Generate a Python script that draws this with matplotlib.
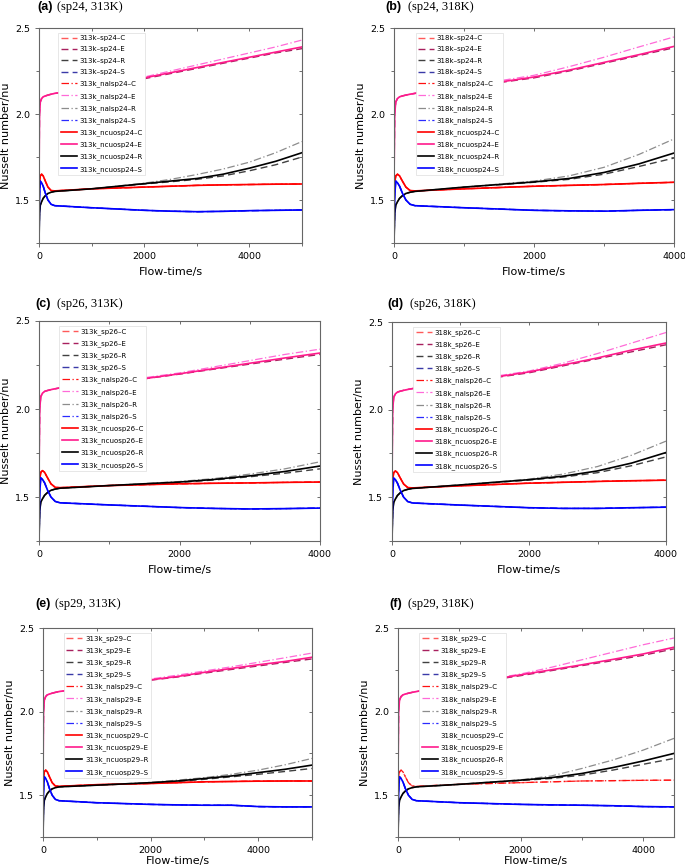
import matplotlib.pyplot as plt
from matplotlib.ticker import MultipleLocator

# ---- data (Nusselt number vs flow time) ----
# start-up part, same for every panel
early_t = [0, 10, 25, 50, 80, 120, 170, 230, 300]
early_E = [1.60, 2.00, 2.07, 2.09, 2.10, 2.105, 2.11, 2.115, 2.12]
early_C = [1.55, 1.60, 1.64, 1.65, 1.64, 1.61, 1.575, 1.555, 1.553]
early_S = [1.25, 1.52, 1.61, 1.60, 1.58, 1.54, 1.50, 1.475, 1.467]
early_R = [1.25, 1.42, 1.47, 1.49, 1.51, 1.525, 1.538, 1.545, 1.55]

# (a) sp24, 313K
a_t = [1000, 2000, 2500, 3000, 3500, 4000, 4500, 5000]
a_E_ncuo = [2.15, 2.21, 2.24, 2.27, 2.30, 2.33, 2.36, 2.39]
a_E_sp = [2.15, 2.205, 2.235, 2.265, 2.295, 2.325, 2.355, 2.38]
a_E_nal = [2.155, 2.215, 2.25, 2.285, 2.32, 2.355, 2.39, 2.43]
a_R_ncuo = [1.565, 1.595, 1.61, 1.625, 1.65, 1.685, 1.725, 1.775]
a_R_sp = [1.565, 1.593, 1.606, 1.62, 1.64, 1.67, 1.705, 1.75]
a_R_nal = [1.565, 1.598, 1.62, 1.648, 1.68, 1.72, 1.775, 1.84]
a_C = [1.565, 1.575, 1.58, 1.585, 1.588, 1.59, 1.592, 1.593]
a_S = [1.455, 1.44, 1.435, 1.432, 1.434, 1.438, 1.44, 1.442]

# (b) sp24, 318K
b_t = [1000, 2000, 2500, 3000, 3500, 4000]
b_E_ncuo = [2.155, 2.215, 2.255, 2.30, 2.345, 2.393]
b_E_sp = [2.155, 2.21, 2.25, 2.295, 2.34, 2.385]
b_E_nal = [2.16, 2.225, 2.275, 2.33, 2.39, 2.448]
b_R_ncuo = [1.575, 1.605, 1.625, 1.66, 1.71, 1.773]
b_R_sp = [1.575, 1.603, 1.62, 1.65, 1.695, 1.744]
b_R_nal = [1.575, 1.61, 1.64, 1.69, 1.765, 1.855]
b_C = [1.565, 1.58, 1.585, 1.59, 1.597, 1.603]
b_S = [1.455, 1.44, 1.437, 1.435, 1.44, 1.444]

# (c) sp26, 313K
c_t = [1000, 2000, 2500, 3000, 3500, 4000]
c_E_ncuo = [2.145, 2.20, 2.23, 2.26, 2.29, 2.318]
c_E_sp = [2.145, 2.198, 2.227, 2.255, 2.283, 2.31]
c_E_nal = [2.15, 2.205, 2.24, 2.275, 2.31, 2.34]
c_R_ncuo = [1.565, 1.585, 1.60, 1.62, 1.645, 1.676]
c_R_sp = [1.565, 1.583, 1.597, 1.615, 1.635, 1.66]
c_R_nal = [1.565, 1.588, 1.605, 1.63, 1.66, 1.70]
c_C = [1.565, 1.575, 1.578, 1.58, 1.583, 1.585]
c_S = [1.455, 1.44, 1.435, 1.432, 1.434, 1.437]

# (d) sp26, 318K
d_t = [1000, 2000, 2500, 3000, 3500, 4000]
d_E_ncuo = [2.155, 2.215, 2.255, 2.295, 2.34, 2.38]
d_E_sp = [2.155, 2.21, 2.25, 2.29, 2.33, 2.37]
d_E_nal = [2.16, 2.22, 2.265, 2.32, 2.38, 2.44]
d_R_ncuo = [1.57, 1.60, 1.62, 1.65, 1.695, 1.755]
d_R_sp = [1.57, 1.598, 1.615, 1.64, 1.68, 1.73]
d_R_nal = [1.57, 1.603, 1.632, 1.675, 1.74, 1.82]
d_C = [1.565, 1.58, 1.585, 1.59, 1.594, 1.597]
d_S = [1.455, 1.44, 1.436, 1.436, 1.44, 1.443]

# (e) sp29, 313K
e_t = [1000, 2000, 2500, 3000, 3500, 4000, 4500, 5000]
e_E_ncuo = [2.15, 2.19, 2.21, 2.235, 2.258, 2.28, 2.30, 2.325]
e_E_sp = [2.15, 2.188, 2.207, 2.23, 2.252, 2.273, 2.294, 2.315]
e_E_nal = [2.153, 2.195, 2.218, 2.243, 2.268, 2.295, 2.322, 2.35]
e_R_ncuo = [1.56, 1.575, 1.585, 1.60, 1.615, 1.635, 1.655, 1.68]
e_R_sp = [1.56, 1.573, 1.582, 1.595, 1.61, 1.625, 1.642, 1.66]
e_R_nal = [1.56, 1.577, 1.59, 1.605, 1.625, 1.65, 1.682, 1.72]
e_C = [1.563, 1.57, 1.575, 1.58, 1.582, 1.584, 1.585, 1.585]
e_S = [1.455, 1.445, 1.442, 1.44, 1.44, 1.432, 1.43, 1.43]

# (f) sp29, 318K
f_t = [1000, 2000, 2500, 3000, 3500, 4000, 4500]
f_E_ncuo = [2.16, 2.22, 2.25, 2.28, 2.312, 2.345, 2.385]
f_E_sp = [2.16, 2.215, 2.245, 2.275, 2.305, 2.337, 2.375]
f_E_nal = [2.163, 2.225, 2.265, 2.31, 2.355, 2.40, 2.44]
f_R_ncuo = [1.565, 1.59, 1.605, 1.63, 1.665, 1.705, 1.75]
f_R_sp = [1.565, 1.588, 1.60, 1.62, 1.65, 1.685, 1.72]
f_R_nal = [1.565, 1.592, 1.615, 1.66, 1.71, 1.77, 1.84]
f_C = [1.565, 1.575, 1.58, 1.585, 1.587, 1.589, 1.59]
f_S = [1.455, 1.445, 1.442, 1.44, 1.437, 1.432, 1.43]

# legend labels, in legend order (sp, nalsp, ncuosp x C, E, R, S)
a_labels = ['313k–sp24–C', '313k–sp24–E', '313k–sp24–R', '313k–sp24–S',
            '313k_nalsp24–C', '313k_nalsp24–E', '313k_nalsp24–R', '313k_nalsp24–S',
            '313k_ncuosp24–C', '313k_ncuosp24–E', '313k_ncuosp24–R', '313k_ncuosp24–S']
b_labels = ['318k–sp24–C', '318k–sp24–E', '318k–sp24–R', '318k–sp24–S',
            '318k_nalsp24–C', '318k_nalsp24–E', '318k_nalsp24–R', '318k_nalsp24–S',
            '318k_ncuosp24–C', '318k_ncuosp24–E', '318k_ncuosp24–R', '318k_ncuosp24–S']
c_labels = ['313k_sp26–C', '313k_sp26–E', '313k_sp26–R', '313k_sp26–S',
            '313k_nalsp26–C', '313k_nalsp26–E', '313k_nalsp26–R', '313k_nalsp26–S',
            '313k_ncuosp26–C', '313k_ncuosp26–E', '313k_ncuosp26–R', '313k_ncuosp26–S']
d_labels = ['318k_sp26–C', '318k_sp26–E', '318k_sp26–R', '318k_sp26–S',
            '318k_nalsp26–C', '318k_nalsp26–E', '318k_nalsp26–R', '318k_nalsp26–S',
            '318k_ncuosp26–C', '318k_ncuosp26–E', '318k_ncuosp26–R', '318k_ncuosp26–S']
e_labels = ['313k_sp29–C', '313k_sp29–E', '313k_sp29–R', '313k_sp29–S',
            '313k_nalsp29–C', '313k_nalsp29–E', '313k_nalsp29–R', '313k_nalsp29–S',
            '313k_ncuosp29–C', '313k_ncuosp29–E', '313k_ncuosp29–R', '313k_ncuosp29–S']
f_labels = ['318k_sp29–C', '318k_sp29–E', '318k_sp29–R', '318k_sp29–S',
            '318k_nalsp29–C', '318k_nalsp29–E', '318k_nalsp29–R', '318k_nalsp29–S',
            '318k_ncuosp29–C', '318k_ncuosp29–E', '318k_ncuosp26–R', '318k_ncuosp29–S']

# colours per case
sp_colors = {'C': '#ff5a5a', 'E': '#a8205e', 'R': '#404040', 'S': '#3a3aa8'}
nal_colors = {'C': '#ff1010', 'E': '#ff6ad8', 'R': '#8c8c8c', 'S': '#2a2aff'}
ncuo_colors = {'C': '#ff0000', 'E': '#ff1a8c', 'R': '#000000', 'S': '#0000ff'}

W, H = 685, 867
fig = plt.figure(figsize=(W / 100, H / 100), dpi=100)


def add_axes_px(left, right, top, bottom):
    return fig.add_axes([left / W, 1 - bottom / H, (right - left) / W, (bottom - top) / H])


def draw_panel(ax, late_t, C, E_sp, E_nal, E_ncuo, R_sp, R_nal, R_ncuo, S,
               labels, xmax, legend_x, hide_ncuo_C=False, xlabelpad=4):
    t = early_t + late_t
    ec = early_C + C
    es = early_S + S
    lines = []
    # sp (dashed)
    sp_data = {'C': ec, 'E': early_E + E_sp, 'R': early_R + R_sp, 'S': es}
    for k in 'CERS':
        l, = ax.plot(t, sp_data[k], ls=(0, (5, 3)), lw=1.0, color=sp_colors[k])
        lines.append(l)
    # nalsp (dash-dot)
    nal_data = {'C': ec, 'E': early_E + E_nal, 'R': early_R + R_nal, 'S': es}
    for k in 'CERS':
        l, = ax.plot(t, nal_data[k], ls=(0, (6, 2, 1, 2)), lw=0.9, color=nal_colors[k])
        lines.append(l)
    # ncuosp (solid)
    ncuo_data = {'C': ec, 'E': early_E + E_ncuo, 'R': early_R + R_ncuo, 'S': es}
    for k in 'CERS':
        if k == 'C' and hide_ncuo_C:
            l, = ax.plot([], [], ls='none')
        else:
            l, = ax.plot(t, ncuo_data[k], ls='-', lw=1.2, color=ncuo_colors[k])
        lines.append(l)

    ax.set_xlim(0, xmax)
    ax.set_ylim(1.25, 2.5)
    ax.xaxis.set_major_locator(MultipleLocator(2000))
    ax.xaxis.set_minor_locator(MultipleLocator(1000))
    ax.yaxis.set_major_locator(MultipleLocator(0.5))
    ax.yaxis.set_minor_locator(MultipleLocator(0.25))
    ax.set_yticks([1.5, 2.0, 2.5])
    ax.set_yticklabels(['1.5', '2.0', '2.5'])
    ax.tick_params(which='both', direction='out', labelsize=6.8, width=0.6, color='#555555')
    ax.tick_params(which='major', length=3)
    ax.tick_params(which='minor', length=2)
    for sp in ax.spines.values():
        sp.set_color('#666666')
        sp.set_linewidth(0.8)

    # mirrored ticks on top and right, pointing inwards
    top = ax.secondary_xaxis('top')
    top.xaxis.set_major_locator(MultipleLocator(2000))
    top.xaxis.set_minor_locator(MultipleLocator(1000))
    top.tick_params(which='both', direction='in', labeltop=False, width=0.6,
                    length=2.5, color='#555555')
    top.spines['top'].set_visible(False)
    right = ax.secondary_yaxis('right')
    right.yaxis.set_major_locator(MultipleLocator(0.5))
    right.yaxis.set_minor_locator(MultipleLocator(0.25))
    right.tick_params(which='both', direction='in', labelright=False, width=0.6,
                      length=2.5, color='#555555')
    right.spines['right'].set_visible(False)

    ax.set_xlabel('Flow-time/s', fontsize=8, labelpad=xlabelpad)
    ax.set_ylabel('Nusselt number/nu', fontsize=8, labelpad=3)

    leg = ax.legend(lines, labels, loc='upper left', bbox_to_anchor=(legend_x, 0.995),
                    fontsize=5.0, handlelength=2.3, handletextpad=0.4,
                    labelspacing=0.78, borderpad=0.35, fancybox=False,
                    framealpha=1.0, edgecolor='#dddddd')
    leg.get_frame().set_linewidth(0.5)
    return ax


def panel_title(x_letter, x_text, y, letter, text):
    fig.text(x_letter / W, 1 - y / H, letter, fontsize=9, fontweight='bold',
             family='Liberation Sans', va='center')
    fig.text(x_text / W, 1 - y / H, text, fontsize=9, family='Liberation Serif', va='center')


ax_a = add_axes_px(39, 302, 28, 243)
draw_panel(ax_a, a_t, a_C, a_E_sp, a_E_nal, a_E_ncuo, a_R_sp, a_R_nal, a_R_ncuo, a_S,
           a_labels, 5000, 0.06)
ax_b = add_axes_px(394, 674, 28, 243)
draw_panel(ax_b, b_t, b_C, b_E_sp, b_E_nal, b_E_ncuo, b_R_sp, b_R_nal, b_R_ncuo, b_S,
           b_labels, 4000, 0.065)
ax_c = add_axes_px(39, 320, 321, 541)
draw_panel(ax_c, c_t, c_C, c_E_sp, c_E_nal, c_E_ncuo, c_R_sp, c_R_nal, c_R_ncuo, c_S,
           c_labels, 4000, 0.06)
ax_d = add_axes_px(392, 666, 322, 541)
draw_panel(ax_d, d_t, d_C, d_E_sp, d_E_nal, d_E_ncuo, d_R_sp, d_R_nal, d_R_ncuo, d_S,
           d_labels, 4000, 0.065)
ax_e = add_axes_px(43, 312, 628, 837)
draw_panel(ax_e, e_t, e_C, e_E_sp, e_E_nal, e_E_ncuo, e_R_sp, e_R_nal, e_R_ncuo, e_S,
           e_labels, 5000, 0.065, xlabelpad=1)
ax_f = add_axes_px(398, 674, 628, 837)
draw_panel(ax_f, f_t, f_C, f_E_sp, f_E_nal, f_E_ncuo, f_R_sp, f_R_nal, f_R_ncuo, f_S,
           f_labels, 4500, 0.065, hide_ncuo_C=True, xlabelpad=1)

panel_title(37, 57, 7, '(a)', '(sp24, 313K)')
panel_title(385, 408, 7, '(b)', '(sp24, 318K)')
panel_title(35, 57, 304, '(c)', '(sp26, 313K)')
panel_title(387, 410, 304, '(d)', '(sp26, 318K)')
panel_title(35, 55, 604, '(e)', '(sp29, 313K)')
panel_title(389, 408, 604, '(f)', '(sp29, 318K)')

plt.savefig('out.png', dpi=100)
